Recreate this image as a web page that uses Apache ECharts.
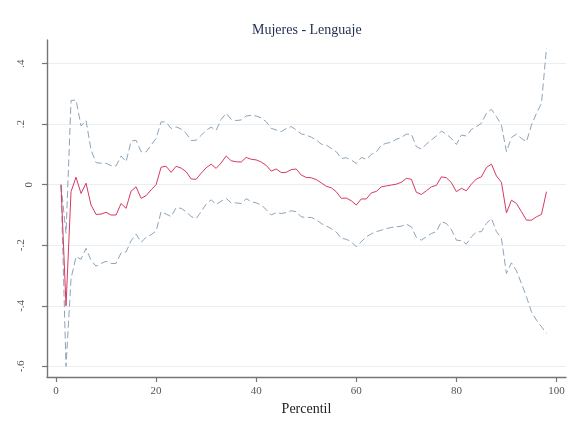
<!DOCTYPE html>
<html>
<head>
<meta charset="utf-8">
<script src="https://cdn.jsdelivr.net/npm/echarts@6/dist/echarts.min.js"></script>
<style>
html,body{margin:0;padding:0;background:#fff;}
#chart{width:574px;height:432px;}
</style>
</head>
<body>
<div id="chart"></div>
<script>
const percentil = [1,2,3,4,5,6,7,8,9,10,11,12,13,14,15,16,17,18,19,20,21,22,23,24,25,26,27,28,29,30,31,32,33,34,35,36,37,38,39,40,41,42,43,44,45,46,47,48,49,50,51,52,53,54,55,56,57,58,59,60,61,62,63,64,65,66,67,68,69,70,71,72,73,74,75,76,77,78,79,80,81,82,83,84,85,86,87,88,89,90,91,92,93,94,95,96,97,98];

const estimate = [0,-0.400,-0.023,0.025,-0.029,0.005,-0.067,-0.098,-0.097,-0.091,
  -0.100,-0.100,-0.062,-0.078,-0.021,-0.007,-0.045,-0.036,-0.017,0.000,
  0.058,0.061,0.041,0.061,0.055,0.043,0.019,0.018,0.038,0.056,
  0.068,0.054,0.072,0.095,0.079,0.076,0.075,0.090,0.084,0.082,
  0.075,0.064,0.045,0.052,0.040,0.041,0.050,0.052,0.032,0.024,
  0.023,0.017,0.006,-0.005,-0.010,-0.023,-0.045,-0.044,-0.053,-0.067,
  -0.047,-0.047,-0.027,-0.022,-0.007,-0.004,-0.001,0.002,0.008,0.021,
  0.018,-0.025,-0.032,-0.020,-0.007,-0.002,0.026,0.023,0.007,-0.023,
  -0.012,-0.020,0.002,0.019,0.026,0.057,0.068,0.029,0.008,-0.093,
  -0.051,-0.062,-0.089,-0.117,-0.117,-0.106,-0.098,-0.023];

const upper = [0,-0.160,0.278,0.280,0.194,0.212,0.115,0.073,0.071,0.071,
  0.063,0.062,0.095,0.076,0.144,0.147,0.109,0.108,0.131,0.153,
  0.208,0.207,0.186,0.191,0.184,0.170,0.146,0.147,0.163,0.180,
  0.190,0.180,0.216,0.236,0.216,0.212,0.214,0.227,0.229,0.227,
  0.221,0.208,0.186,0.181,0.175,0.186,0.192,0.181,0.168,0.164,
  0.157,0.148,0.134,0.131,0.120,0.109,0.087,0.089,0.082,0.070,
  0.090,0.084,0.100,0.108,0.131,0.137,0.140,0.150,0.156,0.167,
  0.167,0.126,0.118,0.134,0.148,0.161,0.177,0.167,0.153,0.133,
  0.164,0.161,0.183,0.192,0.203,0.236,0.249,0.225,0.197,0.109,
  0.156,0.167,0.153,0.142,0.197,0.236,0.269,0.451];

const lower = [0,-0.600,-0.310,-0.238,-0.246,-0.210,-0.250,-0.269,-0.260,-0.253,
  -0.260,-0.260,-0.225,-0.222,-0.185,-0.163,-0.190,-0.174,-0.165,-0.153,
  -0.089,-0.097,-0.105,-0.076,-0.078,-0.089,-0.105,-0.112,-0.089,-0.064,
  -0.050,-0.065,-0.054,-0.045,-0.060,-0.060,-0.062,-0.046,-0.056,-0.060,
  -0.067,-0.082,-0.100,-0.092,-0.095,-0.092,-0.086,-0.089,-0.106,-0.108,
  -0.108,-0.115,-0.128,-0.136,-0.145,-0.156,-0.177,-0.180,-0.188,-0.205,
  -0.188,-0.172,-0.162,-0.155,-0.150,-0.145,-0.141,-0.139,-0.137,-0.130,
  -0.139,-0.174,-0.183,-0.172,-0.161,-0.155,-0.122,-0.128,-0.148,-0.183,
  -0.185,-0.196,-0.172,-0.156,-0.155,-0.128,-0.111,-0.155,-0.177,-0.293,
  -0.258,-0.284,-0.326,-0.370,-0.420,-0.447,-0.469,-0.491];

const xTicks = [0,20,40,60,80,100];
const yTicks = [-0.6,-0.4,-0.2,0,0.2,0.4];
const yTickLabels = ['-.6','-.4','-.2','0','.2','.4'];

const titleText = 'Mujeres - Lenguaje';
const xName = 'Percentil';

const chart = echarts.init(document.getElementById('chart'), null, {renderer:'canvas'});

function pairs(ys){ return percentil.map((p,i)=>[p, ys[i]]); }

const serif = 'Liberation Serif';
const axisColor = '#767676';
const gridColor = '#e9eff2';
const labelStyle = {fontFamily:serif, fontSize:11, color:'#555'};

chart.setOption({
  animation:false,
  backgroundColor:'#ffffff',
  title:{
    text:titleText,
    left:247, top:18,
    textStyle:{fontFamily:serif, fontSize:14, fontWeight:'normal', color:'#1f2d4f'}
  },
  grid:{left:47, right:8, top:40, bottom:55, containLabel:false},
  xAxis:{
    type:'value', min:-1.8, max:101.9,
    name:xName, nameLocation:'middle', nameGap:24,
    nameTextStyle:{fontFamily:serif, fontSize:14, color:'#222'},
    axisLine:{show:true, onZero:false, lineStyle:{color:axisColor, width:1.4}},
    axisTick:{show:true, length:5, customValues:xTicks, lineStyle:{color:axisColor, width:1.2}},
    axisLabel:Object.assign({customValues:xTicks, margin:9, formatter:v=>String(v)}, labelStyle),
    splitLine:{show:false}
  },
  yAxis:{
    type:'value', min:-0.635, max:0.478,
    axisLine:{show:true, onZero:false, lineStyle:{color:axisColor, width:1.4}},
    axisTick:{show:true, length:5, customValues:yTicks, lineStyle:{color:axisColor, width:1.2}},
    axisLabel:Object.assign({customValues:yTicks, rotate:90, margin:12,
      formatter:v=>{
        const i = yTicks.findIndex(t=>Math.abs(t-v)<1e-6);
        if (i<0) return '';
        return Math.abs(v)<1e-9 ? '{z|'+yTickLabels[i]+'}' : '{n|'+yTickLabels[i]+'}';
      },
      rich:{
        z:Object.assign({padding:[0,0,0,0]}, labelStyle),
        n:Object.assign({padding:[0,0,8,0]}, labelStyle)
      }}, labelStyle),
    splitLine:{show:true, lineStyle:{color:gridColor, width:1.2}}
  },
  series:[
    {type:'line', name:'upper', data:pairs(upper), symbol:'none', z:2,
     lineStyle:{color:'#8ea3b8', width:1, type:[7,3.5]}},
    {type:'line', name:'lower', data:pairs(lower), symbol:'none', z:2,
     lineStyle:{color:'#8ea3b8', width:1, type:[7,3.5]}},
    {type:'line', name:'estimate', data:pairs(estimate), symbol:'none', z:3,
     lineStyle:{color:'#d8395f', width:1}}
  ]
});
</script>
</body>
</html>
